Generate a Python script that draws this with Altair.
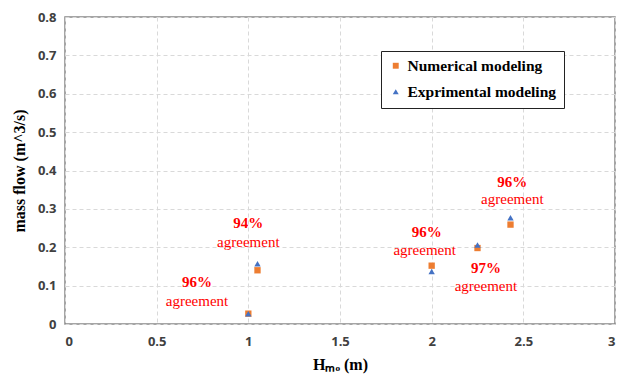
import altair as alt
import pandas as pd

hmo = [1.0, 1.05, 2.0, 2.25, 2.43]
numerical = [0.027, 0.14, 0.152, 0.198, 0.259]
experimental = [0.027, 0.157, 0.137, 0.206, 0.277]
series_names = ["Numerical modeling", "Exprimental modeling"]

x_ticks = [0, 0.5, 1, 1.5, 2, 2.5, 3]
y_ticks = [0, 0.1, 0.2, 0.3, 0.4, 0.5, 0.6, 0.7, 0.8]

ann_x = [1.0, 1.0, 0.72, 0.72, 1.973, 1.962, 2.296, 2.296, 2.44, 2.44]
ann_y = [0.264, 0.213, 0.109, 0.061, 0.241, 0.193, 0.147, 0.099, 0.371, 0.325]
ann_text = ["94%", "agreement", "96%", "agreement", "96%", "agreement",
            "97%", "agreement", "96%", "agreement"]
ann_bold = [True, False, True, False, True, False, True, False, True, False]

rows = []
for x, n, e in zip(hmo, numerical, experimental):
    rows.append({"x": x, "y": n, "s": series_names[0]})
    rows.append({"x": x, "y": e, "s": series_names[1]})
df = pd.DataFrame(rows)
ann = pd.DataFrame({"x": ann_x, "y": ann_y, "t": ann_text, "b": ann_bold})

xs = alt.Scale(domain=[0, 3], nice=False)
ys = alt.Scale(domain=[0, 0.8], nice=False)

points = alt.Chart(df).mark_point(filled=True, size=40, opacity=1).encode(
    x=alt.X("x:Q", scale=xs, title="Hₘₒ (m)",
            axis=alt.Axis(values=x_ticks, format="~g", labelOverlap=False, labelPadding=11)),
    y=alt.Y("y:Q", scale=ys, title="mass flow (m^3/s)",
            axis=alt.Axis(values=y_ticks, format="~g", labelOverlap=False, tickCount=9,
                          labelPadding=9)),
    color=alt.Color("s:N", scale=alt.Scale(domain=series_names, range=["#ED7D31", "#4472C4"]),
                    legend=alt.Legend(title=None, orient="none", legendX=316, legendY=34,
                                      strokeColor="#222222", padding=7, fillColor="white",
                                      labelFont="Liberation Serif", labelFontSize=15.5,
                                      labelFontWeight="bold", labelColor="#000000",
                                      symbolSize=35, rowPadding=9, symbolOffset=0,
                                      labelOffset=4)),
    shape=alt.Shape("s:N", scale=alt.Scale(domain=series_names, range=["square", "triangle-up"]),
                    legend=None),
)

pct = alt.Chart(ann).transform_filter("datum.b").mark_text(
    font="Liberation Serif", fontSize=15, fontWeight="bold", color="#FF0000"
).encode(x=alt.X("x:Q", scale=xs), y=alt.Y("y:Q", scale=ys), text="t:N")

agr = alt.Chart(ann).transform_filter("!datum.b").mark_text(
    font="Liberation Serif", fontSize=15, color="#FF0000"
).encode(x=alt.X("x:Q", scale=xs), y=alt.Y("y:Q", scale=ys), text="t:N")

chart = alt.layer(points, pct, agr).properties(
    width=550, height=307, autosize="none",
    padding={"left": 57, "top": 9, "right": 3, "bottom": 56}
).configure_view(stroke="#888888", strokeWidth=1.5).configure_axis(
    grid=True, gridDash=[4, 3], gridColor="#D9D9D9", domain=False, ticks=False,
    labelFont="Open Sans", labelFontSize=13, labelFontWeight="bold", labelColor="#404040",
    titleFont="Liberation Serif", titleFontSize=16, titleFontWeight="bold", titleColor="#000000"
).configure_axisY(titlePadding=10).configure_axisX(titlePadding=8)

chart.save("out.html", embed_options={"renderer": "svg", "actions": False})
